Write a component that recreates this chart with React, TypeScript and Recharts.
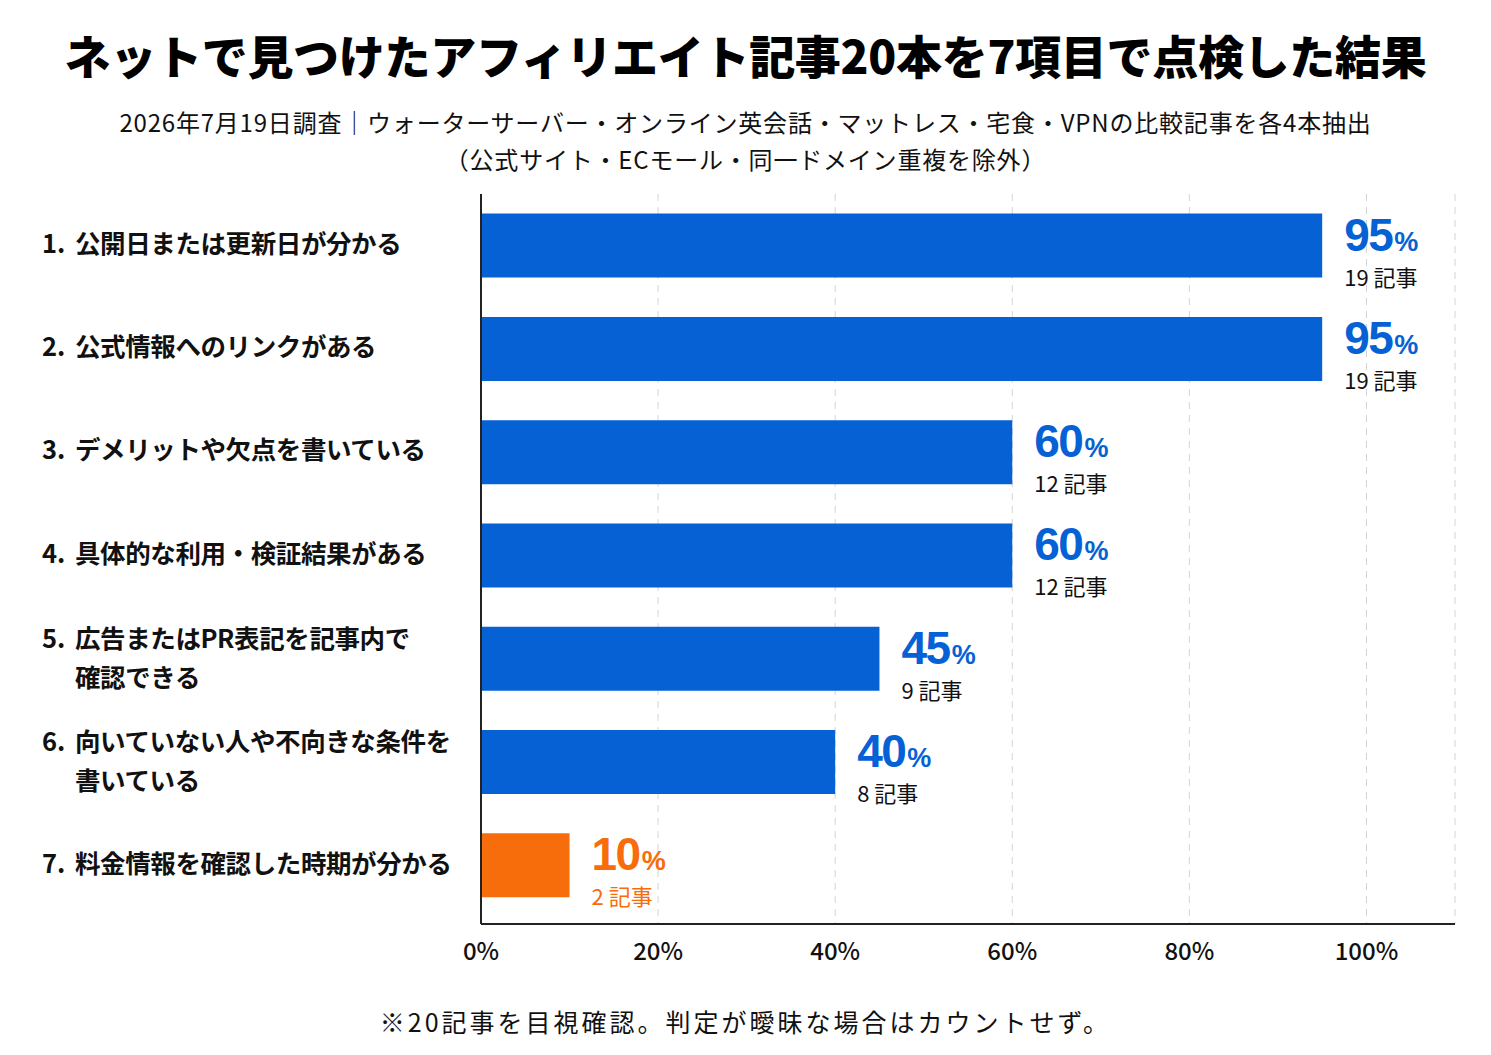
import React from 'react';
import { BarChart, Bar, XAxis, YAxis, CartesianGrid, Cell, LabelList } from 'recharts';

const itemNumbers = ['1.', '2.', '3.', '4.', '5.', '6.', '7.'];
const itemLines = [
  ['公開日または更新日が分かる'],
  ['公式情報へのリンクがある'],
  ['デメリットや欠点を書いている'],
  ['具体的な利用・検証結果がある'],
  ['広告またはPR表記を記事内で', '確認できる'],
  ['向いていない人や不向きな条件を', '書いている'],
  ['料金情報を確認した時期が分かる'],
];
const percentValues = [95, 95, 60, 60, 45, 40, 10];
const articleCounts = [19, 19, 12, 12, 9, 8, 2];
const xTicks = [0, 20, 40, 60, 80, 100];

const BLUE = '#0661D5';
const ORANGE = '#F76D0C';
const FONT = '"Noto Sans CJK JP", "Noto Sans", sans-serif';
const NUM_FONT = '"Liberation Sans", Arial, sans-serif';

const data = percentValues.map((v, i) => ({
  key: String(i),
  value: v,
  count: articleCounts[i],
}));

const YTick = (props: any) => {
  const { y, payload } = props;
  const i = Number(payload.value);
  const lines = itemLines[i];
  const offset = lines.length > 1 ? -20 : -2;
  return (
    <g>
      <text x={42} y={y + offset} dy="0.36em" fontSize={25.5} fontWeight={700} fill="#111" fontFamily={FONT}>
        {itemNumbers[i]}
      </text>
      {lines.map((line, k) => (
        <text key={k} x={75} y={y + offset + k * 39} dy="0.36em" fontSize={25.5} fontWeight={700} fill="#111" fontFamily={FONT} letterSpacing={-0.4}>
          {line}
        </text>
      ))}
    </g>
  );
};

const XTick = (props: any) => {
  const { x, y, payload } = props;
  return (
    <text x={x} y={y + 28} textAnchor="middle" fontSize={24} fontWeight={500} fill="#111" fontFamily={FONT}>
      {payload.value}%
    </text>
  );
};

const ValueLabel = (props: any) => {
  const { x, y, width, index } = props;
  const last = index === percentValues.length - 1;
  const color = last ? ORANGE : BLUE;
  const countColor = last ? ORANGE : '#111';
  const lx = x + width + 22;
  return (
    <g>
      <text x={lx} y={y + 37} fill={color} fontWeight={700} fontFamily={NUM_FONT}>
        <tspan fontSize={46} letterSpacing={-1.5}>{percentValues[index]}</tspan>
        <tspan fontSize={27} dx={2}>%</tspan>
      </text>
      <text x={lx} y={y + 72} fill={countColor} fontSize={22} fontFamily={FONT}>
        {articleCounts[index]} 記事
      </text>
    </g>
  );
};

export default function App() {
  return (
    <div style={{ position: 'absolute', left: 0, top: 0, width: 1491, height: 1055, background: '#fff', fontFamily: FONT }}>
      <div style={{ position: 'absolute', top: 24, left: 0, width: 1491, textAlign: 'center', fontSize: 46, fontWeight: 900, color: '#000', lineHeight: '60px', letterSpacing: -0.3 }}>
        ネットで見つけたアフィリエイト記事20本を7項目で点検した結果
      </div>
      <div style={{ position: 'absolute', top: 103, left: 0, width: 1491, textAlign: 'center', fontSize: 24, color: '#111', lineHeight: '37px', letterSpacing: 0.8 }}>
        2026年7月19日調査｜ウォーターサーバー・オンライン英会話・マットレス・宅食・VPNの比較記事を各4本抽出
        <br />
        （公式サイト・ECモール・同一ドメイン重複を除外）
      </div>
      <div style={{ position: 'absolute', top: 0, left: 0 }}>
        <BarChart
          width={1491}
          height={1055}
          data={data}
          layout="vertical"
          margin={{ top: 194, right: 36, bottom: 91, left: 41 }}
          barCategoryGap="19%"
        >
          <CartesianGrid horizontal={false} stroke="#d4d4d4" strokeDasharray="7 6" />
          <XAxis
            type="number"
            domain={[0, 110]}
            ticks={xTicks}
            tick={<XTick />}
            tickLine={false}
            axisLine={{ stroke: '#222', strokeWidth: 2 }}
            height={40}
          />
          <YAxis
            type="category"
            dataKey="key"
            width={440}
            padding={{ top: 0, bottom: 7 }}
            tick={<YTick />}
            tickLine={false}
            axisLine={{ stroke: '#222', strokeWidth: 2 }}
          />
          <Bar dataKey="value" isAnimationActive={false}>
            {data.map((d, i) => (
              <Cell key={d.key} fill={i === data.length - 1 ? ORANGE : BLUE} />
            ))}
            <LabelList dataKey="value" content={<ValueLabel />} />
          </Bar>
        </BarChart>
      </div>
      <div style={{ position: 'absolute', top: 1003, left: 0, width: 1491, textAlign: 'center', fontSize: 25, color: '#111', lineHeight: '36px', letterSpacing: 3 }}>
        ※20記事を目視確認。判定が曖昧な場合はカウントせず。
      </div>
    </div>
  );
}
